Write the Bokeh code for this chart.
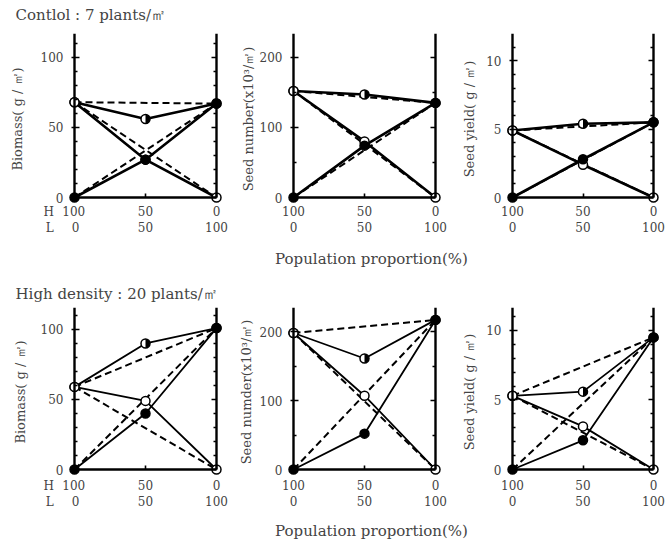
import math
from bokeh.plotting import figure
from bokeh.models import Range1d, LinearAxis, FixedTicker, CustomJSTickFormatter, Label
from bokeh.layouts import column, row
from bokeh.embed import file_html
from bokeh.resources import INLINE

# ---------------- data ----------------
prop_L = [0, 50, 100]                      # L proportion (%) ; H = 100 - L
x_tick_labels = {0: "100\n0", 50: "50\n50", 100: "0\n100"}
# first column carries the H / L row names
x_tick_labels_hl = {0: "H\u2002\u2009100\u2003\u2002\u2009\nL\u2003\u20020\u2003\u2003",
                    50: "50\n50", 100: "0\n100"}

titles = ["Contlol : 7 plants/㎡", "High density : 20 plants/㎡"]
xlabel = "Population proportion(%)"

# Control : 7 plants/m2
ctrl_bio_H = [68, 27, 0]
ctrl_bio_L = [0, 27, 67]
ctrl_bio_T = [68, 56, 67]

ctrl_num_H = [152, 80, 0]
ctrl_num_L = [0, 74, 135]
ctrl_num_T = [152, 147, 135]

ctrl_yld_H = [4.9, 2.4, 0]
ctrl_yld_L = [0, 2.8, 5.5]
ctrl_yld_T = [4.9, 5.4, 5.5]

# High density : 20 plants/m2
high_bio_H = [59, 49, 0]
high_bio_L = [0, 40, 101]
high_bio_T = [59, 90, 101]

high_num_H = [198, 107, 0]
high_num_L = [0, 52, 217]
high_num_T = [198, 161, 217]

high_yld_H = [5.3, 3.1, 0]
high_yld_L = [0, 2.1, 9.5]
high_yld_T = [5.3, 5.6, 9.5]

# y ticks
bio_major = [0, 50, 100]
bio_minor = [10, 20, 30, 40, 60, 70, 80, 90, 110]
num_major = [0, 100, 200]
num_minor = [50, 150]
yld_major = [0, 5, 10]
yld_minor = [1, 2, 3, 4, 6, 7, 8, 9, 11]

FONT = "DejaVu Serif"
PAD = 7  # px of frame padding around the axes
BLANK = CustomJSTickFormatter(code="return ''")
TOTAL_W = 667


def make_panel(H, L, T, ytop, major, minor, ylabel, width, height,
               bl, br, bb, axis_px, yspan_px, lw, ylab_standoff,
               xtick_standoff=0, xticks=x_tick_labels):
    xpad = PAD / axis_px * 100
    ypad = PAD / yspan_px * ytop
    p = figure(width=width, height=height,
               x_range=Range1d(-xpad, 100 + xpad), y_range=Range1d(-ypad, ytop),
               x_axis_type=None, y_axis_type=None,
               output_backend="svg", toolbar_location=None,
               min_border_left=bl, min_border_right=br,
               min_border_top=0, min_border_bottom=bb)
    p.outline_line_color = None
    p.background_fill_color = "white"
    p.border_fill_color = "white"

    # left: labels only (at frame edge)
    ylab_axis = LinearAxis(ticker=FixedTicker(ticks=major, minor_ticks=[]),
                           axis_label=ylabel,
                           axis_label_text_font=FONT, axis_label_text_font_size="13px",
                           axis_label_text_font_style="normal",
                           axis_label_standoff=ylab_standoff,
                           major_label_text_font=FONT, major_label_text_font_size="12px",
                           major_label_standoff=4,
                           axis_line_color=None, major_tick_line_color=None,
                           minor_tick_line_color=None,
                           major_tick_in=0, major_tick_out=0)
    p.add_layout(ylab_axis, "left")
    # left: line + ticks at x = 0
    yline = LinearAxis(ticker=FixedTicker(ticks=major, minor_ticks=minor),
                       fixed_location=0, bounds=(0, ytop), formatter=BLANK,
                       axis_line_width=2.4, major_tick_line_width=1.6,
                       minor_tick_line_width=1.6, major_label_standoff=0,
                       major_tick_in=5, major_tick_out=3, minor_tick_in=3, minor_tick_out=0)
    p.add_layout(yline, "left")
    # right: line + ticks at x = 100
    rline = LinearAxis(ticker=FixedTicker(ticks=major, minor_ticks=minor),
                       fixed_location=100, bounds=(0, ytop), formatter=BLANK,
                       axis_line_width=2.4, major_tick_line_width=1.6,
                       minor_tick_line_width=1.6, major_label_standoff=0,
                       major_tick_in=5, major_tick_out=0, minor_tick_in=3, minor_tick_out=0)
    p.add_layout(rline, "right")

    # bottom: labels only (at frame edge)
    xlab_axis = LinearAxis(ticker=FixedTicker(ticks=prop_L, minor_ticks=[]),
                           major_label_overrides=xticks,
                           major_label_text_font=FONT, major_label_text_font_size="12px",
                           major_label_standoff=xtick_standoff,
                           axis_line_color=None, major_tick_line_color=None,
                           major_tick_in=0, major_tick_out=0)
    p.add_layout(xlab_axis, "below")
    # bottom: line + ticks at y = 0
    xline = LinearAxis(ticker=FixedTicker(ticks=prop_L, minor_ticks=[]),
                       fixed_location=0, bounds=(0, 100), formatter=BLANK,
                       axis_line_width=2.4, major_tick_line_width=1.6,
                       major_label_standoff=0, major_tick_in=4, major_tick_out=0)
    p.add_layout(xline, "below")

    # expected (dashed) lines between monoculture values
    dash = "7 4"
    for s in (H, L, T):
        p.line([prop_L[0], prop_L[-1]], [s[0], s[-1]], line_color="black",
               line_width=2, line_dash=dash)
    # observed lines
    for s in (H, L, T):
        p.line(prop_L, s, line_color="black", line_width=lw)

    # total: half-filled circle
    p.scatter(prop_L, T, marker="circle", size=9, fill_color="white",
              line_color="black", line_width=1.5)
    p.wedge(prop_L, T, radius=4.5, radius_units="screen",
            start_angle=-math.pi / 2, end_angle=math.pi / 2,
            fill_color="black", line_color=None)
    # H: open circle
    p.scatter(prop_L, H, marker="circle", size=9, fill_color="white",
              line_color="black", line_width=1.5)
    # L: filled circle
    p.scatter(prop_L, L, marker="circle", size=9, fill_color="black",
              line_color="black", line_width=1.5)
    return p


def text_bar(height, items):
    """items: (text, x, y_from_top, align, size)"""
    t = figure(width=TOTAL_W, height=height, x_range=Range1d(0, TOTAL_W),
               y_range=Range1d(0, height), x_axis_type=None, y_axis_type=None,
               output_backend="svg", toolbar_location=None,
               min_border_left=0, min_border_right=0, min_border_top=0,
               min_border_bottom=0)
    t.outline_line_color = None
    for text, x, yt, align, size in items:
        t.add_layout(Label(x=x, y=height - yt, text=text, text_font=FONT,
                           text_font_size=size, text_baseline="middle",
                           text_align=align))
    return t


# row 1 panels: page y 33 -> 238, frame bottom at 204 (y=0 at 197)
R1H, R1B, R1SPAN = 205, 34, 164
# row 2 panels: page y 307 -> 512, frame bottom at 476 (y=0 at 469)
R2H, R2B, R2SPAN = 205, 36, 162

bar0 = text_bar(33, [(titles[0], 15, 14, "left", "15px")])
bar1 = text_bar(69, [(xlabel, 371, 20, "center", "15px"),
                     (titles[1], 15, 55, "left", "15px")])
bar2 = text_bar(30, [(xlabel, 371, 18, "center", "15px")])

p1 = make_panel(ctrl_bio_H, ctrl_bio_L, ctrl_bio_T, 117, bio_major, bio_minor,
                "Biomass( g / ㎡)", 230, R1H, 67, 7, R1B, 142, R1SPAN, 2.6, 13,
                xticks=x_tick_labels_hl)
p2 = make_panel(ctrl_num_H, ctrl_num_L, ctrl_num_T, 234, num_major, num_minor,
                "Seed number(x10³/㎡)", 219, R1H, 56, 7, R1B, 142, R1SPAN, 2.6, 1)
p3 = make_panel(ctrl_yld_H, ctrl_yld_L, ctrl_yld_T, 12, yld_major, yld_minor,
                "Seed yield( g / ㎡)", 218, R1H, 56, 7, R1B, 141, R1SPAN, 2.6, 6)

p4 = make_panel(high_bio_H, high_bio_L, high_bio_T, 115.7, bio_major, bio_minor,
                "Biomass( g / ㎡)", 230, R2H, 67, 7, R2B, 142, R2SPAN, 1.8, 10,
                xtick_standoff=2, xticks=x_tick_labels_hl)
p5 = make_panel(high_num_H, high_num_L, high_num_T, 235, num_major, num_minor,
                "Seed numder(x10³/㎡)", 219, R2H, 56, 7, R2B, 142, R2SPAN, 1.8, 3,
                xtick_standoff=2)
p6 = make_panel(high_yld_H, high_yld_L, high_yld_T, 11.65, yld_major, yld_minor,
                "Seed yield( g / ㎡)", 218, R2H, 56, 7, R2B, 141, R2SPAN, 1.8, 6,
                xtick_standoff=2)

layout = column(bar0, row(p1, p2, p3), bar1, row(p4, p5, p6), bar2)
open("out.html", "w").write(file_html(layout, INLINE))
